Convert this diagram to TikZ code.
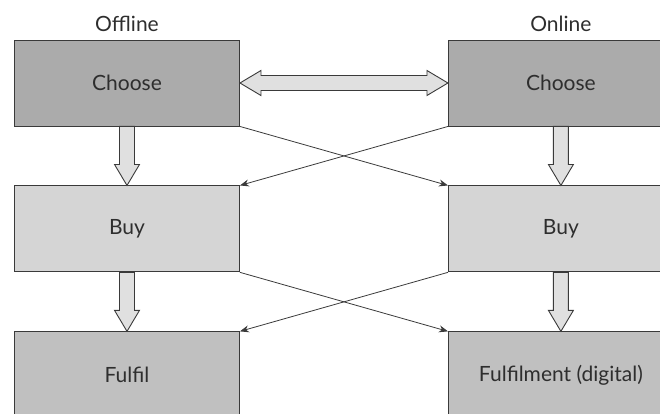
\documentclass[tikz,border=0pt]{standalone}
\usepackage{fontspec}
\setmainfont{Lato}
\usetikzlibrary{positioning, arrows.meta, calc}

\definecolor{choosefill}{HTML}{ABABAB}
\definecolor{buyfill}{HTML}{D5D5D5}
\definecolor{fulfilfill}{HTML}{C0C0C0}
\definecolor{blockfill}{HTML}{E0E0E0}
\definecolor{edgegrey}{HTML}{3A3A3A}
\definecolor{textgrey}{HTML}{2E2E2E}

% block arrow from the bottom of #1 to the top of #2
\newcommand{\downblock}[2]{%
  \draw[blockarrow] ($(#1.south)+(-7.5,0)$) -- ($(#2.north)+(-7.5,-21)$)
    -- ($(#2.north)+(-12.5,-21)$) -- (#2.north) -- ($(#2.north)+(12.5,-21)$)
    -- ($(#2.north)+(7.5,-21)$) -- ($(#1.south)+(7.5,0)$) -- cycle;}

\begin{document}
\begin{tikzpicture}[x=1pt, y=-1pt,
  box/.style={draw=edgegrey, line width=0.9pt, minimum width=225pt,
    minimum height=86pt, text=textgrey, font=\fontsize{21}{24}\selectfont},
  blockarrow/.style={draw=edgegrey, line width=0.9pt, fill=blockfill, line join=miter},
  cross/.style={draw=edgegrey, line width=0.8pt, -{Stealth[length=9pt, width=7pt]}},
  head/.style={text=textgrey, font=\fontsize{21}{24}\selectfont}]
\useasboundingbox (0,0) rectangle (660,414);
\node[box, fill=choosefill] (choosel) at (127,83) {Choose};
\node[box, fill=buyfill, below=59pt of choosel] (buyl) {Buy};
\node[box, fill=fulfilfill, below=59pt of buyl] (fulfl) {Fulfil};
\node[box, fill=choosefill, right=208pt of choosel] (chooser) {Choose};
\node[box, fill=buyfill, below=59pt of chooser] (buyr) {Buy};
\node[box, fill=fulfilfill, below=59pt of buyr] (fulfr) {Fulfilment (digital)};
\node[head, above=4pt of choosel] (offline) {Offline};
\node[head, above=4pt of chooser] (online) {Online};
% between the columns
\draw[blockarrow] (choosel.east) -- ($(choosel.east)+(21,-12.5)$)
  -- ($(choosel.east)+(21,-7.5)$) -- ($(chooser.west)+(-21,-7.5)$)
  -- ($(chooser.west)+(-21,-12.5)$) -- (chooser.west)
  -- ($(chooser.west)+(-21,12.5)$) -- ($(chooser.west)+(-21,7.5)$)
  -- ($(choosel.east)+(21,7.5)$) -- ($(choosel.east)+(21,12.5)$) -- cycle;
\downblock{choosel}{buyl}
\downblock{buyl}{fulfl}
\downblock{chooser}{buyr}
\downblock{buyr}{fulfr}
\draw[cross] (choosel.south east) -- (buyr.north west);
\draw[cross] (chooser.south west) -- (buyl.north east);
\draw[cross] (buyl.south east) -- (fulfr.north west);
\draw[cross] (buyr.south west) -- (fulfl.north east);
\end{tikzpicture}
\end{document}
